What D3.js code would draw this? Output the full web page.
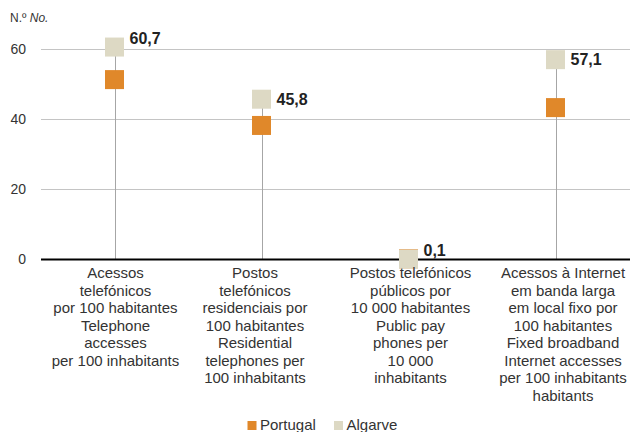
<!DOCTYPE html>
<html><head><meta charset="utf-8">
<script src="https://cdn.jsdelivr.net/npm/d3@7"></script>
<style>
html,body{margin:0;padding:0;background:#fff;}
svg{display:block;font-family:"Liberation Sans",Arial,sans-serif;}
</style></head>
<body><svg id="c" width="630" height="432"></svg>
<script>
const categories = ["cat1","cat2","cat3","cat4"];
const categoryLabels = [
  ["Acessos","telefónicos","por 100 habitantes","Telephone","accesses","per 100 inhabitants"],
  ["Postos","telefónicos","residenciais por","100 habitantes","Residential","telephones per","100 inhabitants"],
  ["Postos telefónicos","públicos por","10 000 habitantes","Public pay","phones per","10 000","inhabitants"],
  ["Acessos à Internet","em banda larga","em local fixo por","100 habitantes","Fixed broadband","Internet accesses","per 100 inhabitants","habitants"]
];
const seriesNames = ["Portugal","Algarve"];
const portugal = [51.4, 38.3, 0.2, 43.4];
const algarve = [60.7, 45.8, 0.1, 57.1];
const algarveLabels = ["60,7","45,8","0,1","57,1"];
const yTicks = [0, 20, 40, 60];

const colors = {Portugal:"#E0882A", Algarve:"#DDD9C4"};
const labelShift = [1, -6.5, 2, 7.5];

const svg = d3.select("#c");
const x = d3.scaleBand().domain(categories).range([41, 629]);
const y = d3.scaleLinear().domain([0, 60]).range([259.5, 49.5]);
const cx = c => x(c) + x.bandwidth()/2;

// gridlines
svg.append("g").selectAll("line").data(yTicks.filter(t => t !== 0)).join("line")
  .attr("x1", 41).attr("x2", 630)
  .attr("y1", d => y(d)).attr("y2", d => y(d))
  .attr("stroke", "#c4c4c4").attr("stroke-width", 1);

// y tick labels
svg.append("g").selectAll("text").data(yTicks).join("text")
  .attr("x", 26).attr("y", d => y(d)).attr("dy", "0.35em")
  .attr("text-anchor", "end").attr("font-size", 14).attr("fill", "#333")
  .text(d => d);

// unit label
const u = svg.append("text").attr("x", 10).attr("y", 22).attr("font-size", 12).attr("fill", "#333");
u.append("tspan").text("N.º ");
u.append("tspan").attr("font-style", "italic").text("No.");

// drop lines
svg.append("g").selectAll("line").data(categories).join("line")
  .attr("x1", d => Math.round(cx(d)) + 0.5).attr("x2", d => Math.round(cx(d)) + 0.5)
  .attr("y1", (d,i) => y(Math.max(portugal[i], algarve[i])))
  .attr("y2", y(0))
  .attr("stroke", "#a6a6a6").attr("stroke-width", 1);

// zero axis
svg.append("line").attr("x1", 41).attr("x2", 630).attr("y1", y(0)).attr("y2", y(0))
  .attr("stroke", "#000").attr("stroke-width", 2);

// markers
const ms = 19;
[["Portugal", portugal], ["Algarve", algarve]].forEach(([name, vals]) => {
  svg.append("g").selectAll("rect").data(vals).join("rect")
    .attr("x", (d,i) => cx(categories[i]) - ms/2)
    .attr("y", d => y(d) - ms/2)
    .attr("width", ms).attr("height", ms)
    .attr("fill", colors[name]);
});

// data labels (Algarve)
svg.append("g").selectAll("text").data(algarve).join("text")
  .attr("x", (d,i) => cx(categories[i]) + 15)
  .attr("y", d => {
    const near = yTicks.some(t => Math.abs(t - d) < 1.5);
    return y(d) + (near ? -9 : 0);
  })
  .attr("dy", "0.35em")
  .attr("font-size", 16).attr("font-weight", "bold").attr("fill", "#222")
  .text((d,i) => algarveLabels[i]);

// category labels
categories.forEach((c, i) => {
  const t = svg.append("text").attr("text-anchor", "middle")
    .attr("font-size", 15).attr("fill", "#333");
  categoryLabels[i].forEach((line, j) => {
    t.append("tspan").attr("x", cx(c) + labelShift[i]).attr("y", 278 + j*17.5).text(line);
  });
});

// legend
const legend = [{name:"Portugal", x:247.5}, {name:"Algarve", x:334}];
legend.forEach(l => {
  svg.append("rect").attr("x", l.x).attr("y", 421).attr("width", 9).attr("height", 9).attr("fill", colors[l.name]);
  svg.append("text").attr("x", l.x + 12.5).attr("y", 430).attr("font-size", 15).attr("fill", "#333").text(l.name);
});
</script></body></html>
